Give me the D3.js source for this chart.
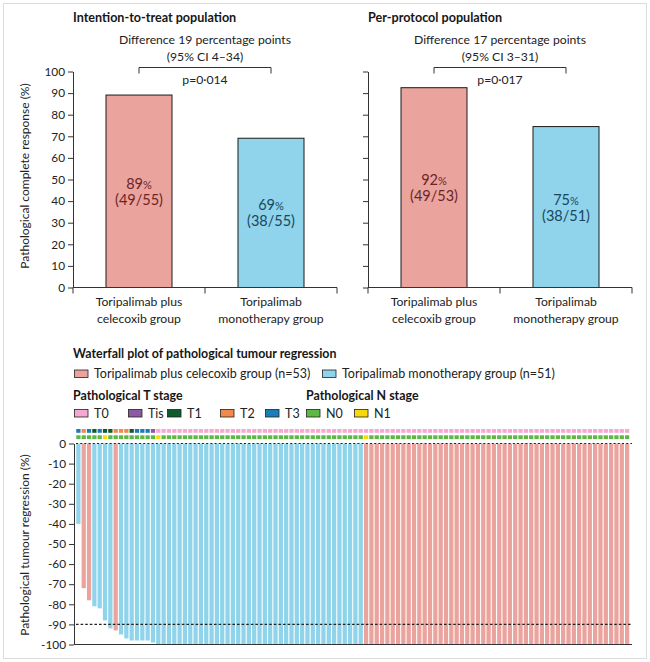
<!DOCTYPE html>
<html><head><meta charset="utf-8">
<script src="https://cdn.jsdelivr.net/npm/d3@7/dist/d3.min.js"></script>
<style>
html,body{margin:0;padding:0;background:#fff;}
svg{display:block;font-family:Lato,"Open Sans",sans-serif;}
</style></head>
<body><svg id="c" width="650" height="662"></svg>
<script>
// ---------------- DATA ----------------
const groups = ["combo", "mono"];
const groupLabels = [["Toripalimab plus", "celecoxib group"], ["Toripalimab", "monotherapy group"]];
const ittValues = [89.1, 69.1];
const ittPct = ["89", "69"];
const ittFrac = ["(49/55)", "(38/55)"];
const ppValues = [92.5, 74.5];
const ppPct = ["92", "75"];
const ppFrac = ["(49/53)", "(38/51)"];
const barTicks = [0, 10, 20, 30, 40, 50, 60, 70, 80, 90, 100];
const wfTicks = [0, -10, -20, -30, -40, -50, -60, -70, -80, -90, -100];

// waterfall: one entry per patient (104)
const wfGroup = [
 "mono","combo","combo","mono","mono","mono","mono","combo","mono","mono",
 "mono","mono","mono","mono","mono","mono","mono","mono","mono","mono",
 "mono","mono","mono","mono","mono","mono","mono","mono","mono","mono",
 "mono","mono","mono","mono","mono","mono","mono","mono","mono","mono",
 "mono","mono","mono","mono","mono","mono","mono","mono","mono","mono",
 "mono","mono","mono","mono","combo","combo","combo","combo","combo","combo",
 "combo","combo","combo","combo","combo","combo","combo","combo","combo","combo",
 "combo","combo","combo","combo","combo","combo","combo","combo","combo","combo",
 "combo","combo","combo","combo","combo","combo","combo","combo","combo","combo",
 "combo","combo","combo","combo","combo","combo","combo","combo","combo","combo",
 "combo","combo","combo","combo"];
const wfRegression = [
 -40,-72,-78,-81,-82,-88,-92,-93,-95,-97,
 -98,-98,-98,-98,-99,-100,-100,-100,-100,-100,
 -100,-100,-100,-100,-100,-100,-100,-100,-100,-100,
 -100,-100,-100,-100,-100,-100,-100,-100,-100,-100,
 -100,-100,-100,-100,-100,-100,-100,-100,-100,-100,
 -100,-100,-100,-100,-100,-100,-100,-100,-100,-100,
 -100,-100,-100,-100,-100,-100,-100,-100,-100,-100,
 -100,-100,-100,-100,-100,-100,-100,-100,-100,-100,
 -100,-100,-100,-100,-100,-100,-100,-100,-100,-100,
 -100,-100,-100,-100,-100,-100,-100,-100,-100,-100,
 -100,-100,-100,-100];
const wfT = [
 "T3","T2","T3","T1","T3","T1","T1","T2","T2","T2",
 "T1","T3","T3","T3","Tis","T0","T0","T0","T0","T0",
 "T0","T0","T0","T0","T0","T0","T0","T0","T0","T0",
 "T0","T0","T0","T0","T0","T0","T0","T0","T0","T0",
 "T0","T0","T0","T0","T0","T0","T0","T0","T0","T0",
 "T0","T0","T0","T0","T0","T0","T0","T0","T0","T0",
 "T0","T0","T0","T0","T0","T0","T0","T0","T0","T0",
 "T0","T0","T0","T0","T0","T0","T0","T0","T0","T0",
 "T0","T0","T0","T0","T0","T0","T0","T0","T0","T0",
 "T0","T0","T0","T0","T0","T0","T0","T0","T0","T0",
 "T0","T0","T0","T0"];
const wfN = [
 "N0","N0","N0","N0","N0","N1","N0","N0","N0","N0",
 "N0","N0","N0","N0","N0","N1","N0","N0","N0","N0",
 "N0","N0","N0","N0","N0","N0","N0","N0","N0","N0",
 "N0","N0","N0","N0","N0","N0","N0","N0","N0","N0",
 "N0","N0","N0","N0","N0","N0","N0","N0","N0","N0",
 "N0","N0","N0","N0","N1","N0","N0","N0","N0","N0",
 "N0","N0","N0","N0","N0","N0","N0","N0","N0","N0",
 "N0","N0","N0","N0","N0","N0","N0","N0","N0","N0",
 "N0","N0","N0","N0","N0","N0","N0","N0","N0","N0",
 "N0","N0","N0","N0","N0","N0","N0","N0","N0","N0",
 "N0","N0","N0","N0"];
const groupLegend = ["Toripalimab plus celecoxib group (n=53)", "Toripalimab monotherapy group (n=51)"];
const tStages = ["T0", "Tis", "T1", "T2", "T3"];
const nStages = ["N0", "N1"];

// ---------------- STYLE ----------------
const groupColor = d3.scaleOrdinal(groups, ["#eba39e", "#8fd4eb"]);
const pctColor = d3.scaleOrdinal(groups, ["#6a2626", "#1a4660"]);
const tColor = d3.scaleOrdinal(tStages, ["#f4a8d2", "#8a5aa3", "#0d5a2c", "#f28a4e", "#1b7db8"]);
const nColor = d3.scaleOrdinal(nStages, ["#5db846", "#f6da0c"]);
const ink = "#161616", txt = "#222", axisInk = "#333";

const svg = d3.select("#c");
svg.append("rect").attr("x", 3.5).attr("y", 3.5).attr("width", 643).attr("height", 655)
  .attr("fill", "none").attr("stroke", "#dcdcdc");

// ---------------- BAR PANELS ----------------
const yBar = d3.scaleLinear([0, 100], [287.5, 71.5]);

function panel(x0, x1, title, values, pct, frac, diff, ci, p, showLabels) {
  const g = svg.append("g");
  const x = d3.scaleBand(groups, [x0, x1]);
  const bw = x.bandwidth() * 0.5;
  const cx = d => x(d) + x.bandwidth() / 2;

  g.append("text").attr("x", x0).attr("y", 21.5).attr("font-weight", 700)
    .attr("font-size", 12.6).attr("fill", ink).text(title);

  // bars
  g.selectAll("rect.bar").data(groups).join("rect").attr("class", "bar")
    .attr("x", d => cx(d) - bw / 2).attr("width", bw)
    .attr("y", (d, i) => yBar(values[i])).attr("height", (d, i) => yBar(0) - yBar(values[i]))
    .attr("fill", d => groupColor(d)).attr("stroke", "#1a1a1a").attr("stroke-width", 1);

  // bar labels
  groups.forEach((d, i) => {
    const mid = (yBar(values[i]) + yBar(0)) / 2;
    const t1 = g.append("text").attr("x", cx(d)).attr("y", mid - 2.5).attr("text-anchor", "middle")
      .attr("font-size", 14.5).attr("fill", pctColor(d));
    t1.append("tspan").text(pct[i]);
    t1.append("tspan").attr("font-size", 11).text("%");
    g.append("text").attr("x", cx(d)).attr("y", mid + 13.5).attr("text-anchor", "middle")
      .attr("font-size", 14.5).attr("fill", pctColor(d)).text(frac[i]);
  });

  // y axis
  const ya = g.append("g").attr("transform", `translate(${x0},0)`)
    .call(d3.axisLeft(yBar).tickValues(barTicks).tickSize(5).tickSizeOuter(0).tickPadding(3));
  ya.select(".domain").attr("stroke", axisInk);
  ya.selectAll(".tick line").attr("stroke", axisInk);
  ya.selectAll(".tick text").attr("font-size", 11.8).attr("fill", txt)
    .attr("font-family", "Lato, sans-serif").style("display", showLabels ? null : "none");

  // x axis with boundary ticks
  g.append("line").attr("x1", x0).attr("x2", x1).attr("y1", yBar(0)).attr("y2", yBar(0))
    .attr("stroke", axisInk);
  const bounds = [x0].concat(groups.map(d => x(d) + x.bandwidth()));
  g.selectAll("line.bt").data(bounds).join("line").attr("class", "bt")
    .attr("x1", d => d).attr("x2", d => d).attr("y1", yBar(0)).attr("y2", yBar(0) + 6)
    .attr("stroke", axisInk);

  // category labels
  groups.forEach((d, i) => {
    groupLabels[i].forEach((line, k) => {
      g.append("text").attr("x", cx(d)).attr("y", 306 + k * 16.5).attr("text-anchor", "middle")
        .attr("font-size", 12.2).attr("fill", txt).text(line);
    });
  });

  // bracket
  const bx0 = cx(groups[0]), bx1 = cx(groups[1]), mx = (x0 + x1) / 2;
  g.append("path").attr("d", `M${bx0},73.5V67.5H${bx1}V73.5`).attr("fill", "none")
    .attr("stroke", axisInk).attr("stroke-width", 1);
  g.append("text").attr("x", mx).attr("y", 44).attr("text-anchor", "middle")
    .attr("font-size", 12.2).attr("fill", txt).text(diff);
  g.append("text").attr("x", mx).attr("y", 61).attr("text-anchor", "middle")
    .attr("font-size", 12.2).attr("fill", txt).text(ci);
  g.append("text").attr("x", mx).attr("y", 84).attr("text-anchor", "middle")
    .attr("font-size", 12.2).attr("fill", txt).text(p);
}

panel(73, 337, "Intention-to-treat population", ittValues, ittPct, ittFrac,
  "Difference 19 percentage points", "(95% CI 4\u201334)", "p=0\u00b7014", true);
panel(368, 632, "Per-protocol population", ppValues, ppPct, ppFrac,
  "Difference 17 percentage points", "(95% CI 3\u201331)", "p=0\u00b7017", false);

svg.append("text").attr("transform", "translate(29,176) rotate(-90)").attr("text-anchor", "middle")
  .attr("font-size", 12).attr("fill", txt).text("Pathological complete response (%)");

// ---------------- WATERFALL ----------------
svg.append("text").attr("x", 73).attr("y", 358).attr("font-weight", 700).attr("font-size", 12.4)
  .attr("fill", ink).text("Waterfall plot of pathological tumour regression");

// group legend
const gl = svg.append("g");
[[74, 0], [322, 1]].forEach(([lx, i]) => {
  gl.append("rect").attr("x", lx + 0.5).attr("y", 370).attr("width", 13.5).attr("height", 7.5)
    .attr("fill", groupColor(groups[i])).attr("stroke", "#222").attr("stroke-width", 0.8);
  gl.append("text").attr("x", lx + 20).attr("y", 377.5).attr("font-size", 12.5).attr("fill", txt)
    .text(groupLegend[i]);
});
svg.append("text").attr("x", 73).attr("y", 400).attr("font-weight", 700).attr("font-size", 12.4)
  .attr("fill", ink).text("Pathological T stage");
svg.append("text").attr("x", 306).attr("y", 400).attr("font-weight", 700).attr("font-size", 12.4)
  .attr("fill", ink).text("Pathological N stage");
const stageLegend = [["T0", 74, tColor], ["Tis", 128, tColor], ["T1", 167, tColor], ["T2", 220, tColor],
  ["T3", 265, tColor], ["N0", 306, nColor], ["N1", 354, nColor]];
stageLegend.forEach(([s, lx, sc]) => {
  gl.append("rect").attr("x", lx + 0.5).attr("y", 409.5).attr("width", 13.5).attr("height", 7.5)
    .attr("fill", sc(s)).attr("stroke", "#222").attr("stroke-width", 0.8);
  gl.append("text").attr("x", lx + 20).attr("y", 417.5).attr("font-size", 12.5).attr("fill", txt).text(s);
});

const idx = d3.range(wfRegression.length);
const xw = d3.scaleBand(idx, [76, 629.5]).paddingInner(0.2).paddingOuter(0.05);
const yw = d3.scaleLinear([0, -100], [443.5, 644.5]);
const wf = svg.append("g");

wf.selectAll("rect.wb").data(idx).join("rect").attr("class", "wb")
  .attr("x", i => xw(i)).attr("width", xw.bandwidth())
  .attr("y", yw(0)).attr("height", i => yw(wfRegression[i]) - yw(0))
  .attr("fill", i => groupColor(wfGroup[i]));

wf.selectAll("rect.ts").data(idx).join("rect").attr("class", "ts")
  .attr("x", i => xw(i)).attr("width", xw.bandwidth()).attr("y", 429).attr("height", 3.8)
  .attr("fill", i => tColor(wfT[i]));
wf.selectAll("rect.ns").data(idx).join("rect").attr("class", "ns")
  .attr("x", i => xw(i)).attr("width", xw.bandwidth()).attr("y", 435.3).attr("height", 3.8)
  .attr("fill", i => nColor(wfN[i]));

// reference lines
wf.append("line").attr("x1", 76).attr("x2", 632).attr("y1", yw(0)).attr("y2", yw(0))
  .attr("stroke", "#222").attr("stroke-width", 1.1).attr("stroke-dasharray", "2,2.2");
wf.append("line").attr("x1", 76).attr("x2", 632).attr("y1", yw(-90)).attr("y2", yw(-90))
  .attr("stroke", "#222").attr("stroke-width", 1.1).attr("stroke-dasharray", "2.6,2");

const wa = wf.append("g").attr("transform", "translate(74,0)")
  .call(d3.axisLeft(yw).tickValues(wfTicks).tickSize(5).tickSizeOuter(0).tickPadding(3)
    .tickFormat(d => d === 0 ? "0" : "-" + Math.abs(d)));
wa.select(".domain").attr("stroke", axisInk);
wa.selectAll(".tick line").attr("stroke", axisInk);
wa.selectAll(".tick text").attr("font-size", 11.8).attr("fill", txt).attr("font-family", "Lato, sans-serif");
wf.append("line").attr("x1", 74).attr("x2", 632).attr("y1", yw(-100)).attr("y2", yw(-100))
  .attr("stroke", axisInk).attr("stroke-width", 1.2);

svg.append("text").attr("transform", "translate(29,545) rotate(-90)").attr("text-anchor", "middle")
  .attr("font-size", 12).attr("fill", txt).text("Pathological tumour regression (%)");
</script></body></html>
